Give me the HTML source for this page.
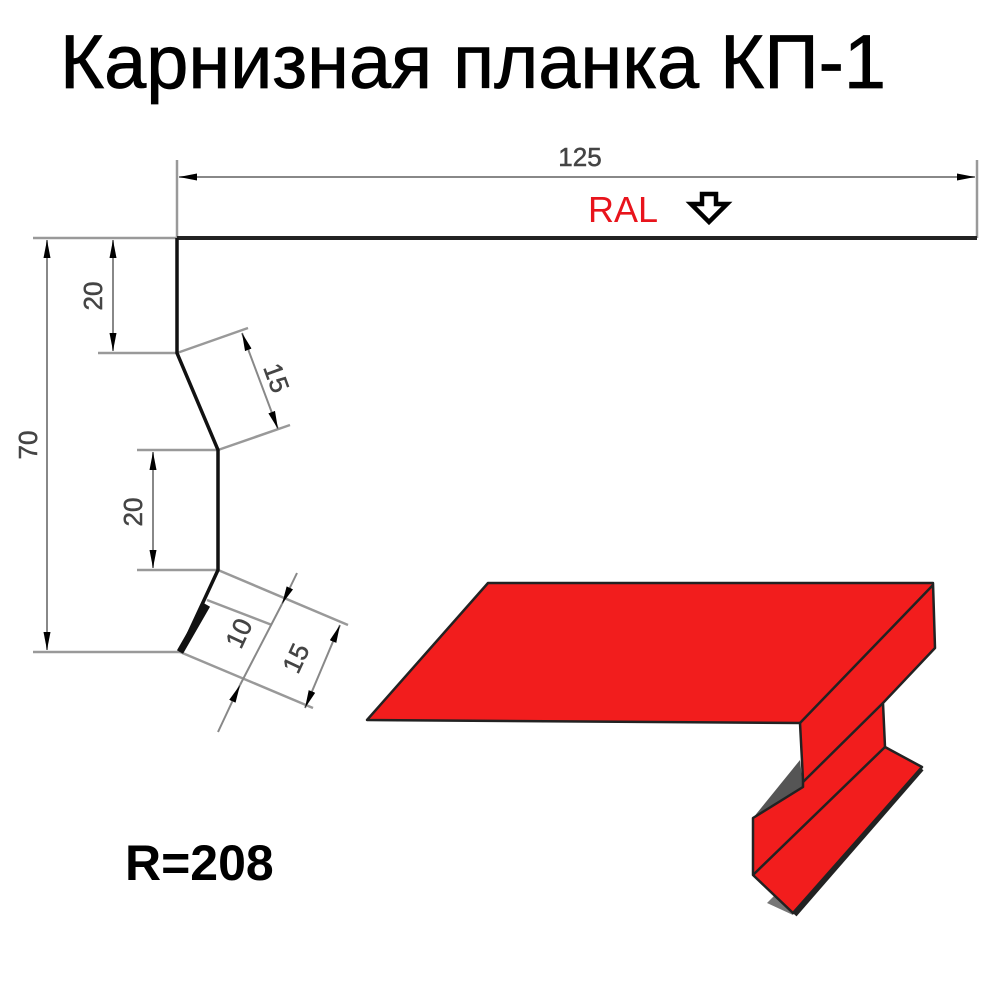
<!DOCTYPE html>
<html><head><meta charset="utf-8"><style>html,body{margin:0;padding:0;background:#fff}svg{display:block}</style></head>
<body>
<svg width="1000" height="1000" viewBox="0 0 1000 1000" xmlns="http://www.w3.org/2000/svg">
<defs>
<marker id="a" viewBox="0 0 18 10" refX="18" refY="5" markerWidth="18" markerHeight="10" orient="auto-start-reverse" markerUnits="userSpaceOnUse"><path d="M0,1.5 L18,5 L0,8.5 z" fill="#000"/></marker>
</defs>
<text x="60" y="88" font-family="'Liberation Sans',sans-serif" font-size="76" textLength="826" lengthAdjust="spacingAndGlyphs" fill="#000" stroke="#000" stroke-width="0.8">Карнизная планка КП-1</text>

<g stroke="#999" stroke-width="2.5" fill="none">
<line x1="177" y1="160" x2="177" y2="238"/>
<line x1="977" y1="160" x2="977" y2="238"/>
<line x1="33" y1="238" x2="177" y2="238"/>
<line x1="33" y1="652" x2="180" y2="652"/>
<line x1="98" y1="353" x2="177" y2="353"/>
<line x1="137" y1="450" x2="218" y2="450"/>
<line x1="137" y1="570" x2="218" y2="570"/>
<line x1="177" y1="353" x2="248" y2="328"/>
<line x1="218" y1="450" x2="290" y2="425"/>
<line x1="218" y1="570" x2="348" y2="625"/>
<line x1="207" y1="600" x2="272" y2="625"/>
<line x1="180" y1="652" x2="313" y2="708"/>
</g>
<g stroke="#888" stroke-width="2" fill="none">
<line x1="179" y1="177" x2="975" y2="177" marker-start="url(#a)" marker-end="url(#a)"/>
<line x1="47" y1="240" x2="47" y2="650" marker-start="url(#a)" marker-end="url(#a)"/>
<line x1="113" y1="240" x2="113" y2="351" marker-start="url(#a)" marker-end="url(#a)"/>
<line x1="153" y1="452" x2="153" y2="568" marker-start="url(#a)" marker-end="url(#a)"/>
<line x1="242" y1="333" x2="278" y2="429" marker-start="url(#a)" marker-end="url(#a)"/>
<line x1="340" y1="625" x2="305" y2="708" marker-start="url(#a)" marker-end="url(#a)"/>
<line x1="297" y1="573" x2="282" y2="604" marker-end="url(#a)"/>
<line x1="218" y1="732" x2="240" y2="685" marker-end="url(#a)"/>
<line x1="282" y1="604" x2="240" y2="685"/>
</g>
<g font-family="'Liberation Sans',sans-serif" font-size="26" fill="#444" stroke="#444" stroke-width="0.5" text-anchor="middle">
<text x="580" y="166">125</text>
<text transform="translate(37,445) rotate(-90)">70</text>
<text transform="translate(102,296) rotate(-90)">20</text>
<text transform="translate(142,512) rotate(-90)">20</text>
<text transform="translate(268,381) rotate(70)">15</text>
<text transform="translate(247,637) rotate(-65)">10</text>
<text transform="translate(304,662) rotate(-65)">15</text>
</g>
<polyline points="177,238 977,238" stroke="#222" stroke-width="4" fill="none"/>
<polyline points="177,238 177,353 218,450 218,570 180,652" stroke="#111" stroke-width="3.5" fill="none"/>
<line x1="207" y1="605" x2="180" y2="652" stroke="#111" stroke-width="7"/>

<text x="588" y="222" font-family="'Liberation Sans',sans-serif" font-size="36" fill="#e8141c">RAL</text>
<path d="M702,194 L716,194 L716,204 L727,204 L709,222 L691,204 L702,204 Z" fill="#fff" stroke="#000" stroke-width="4.5" stroke-linejoin="miter"/>

<text x="125" y="880" font-family="'Liberation Sans',sans-serif" font-size="50" font-weight="bold" fill="#000">R=208</text>

<polygon points="753,818 800,760 803,787" fill="#555"/>
<polygon points="767,903 775,895 795,910 793,915" fill="#777"/>
<polygon points="488,583 933,583 935,648 883,703 885,747 922,767 793,913 753,875 753,818 803,787 803,780 800,723 367,720" fill="#f21d1d" stroke="#222" stroke-width="2.5" stroke-linejoin="round"/>
<g stroke="#222" stroke-width="2.5">
<line x1="933" y1="585" x2="800" y2="723"/>
<line x1="883" y1="703" x2="803" y2="782"/>
<line x1="885" y1="747" x2="753" y2="875"/>
<line x1="922" y1="769" x2="795" y2="915" stroke-width="4"/>
</g>
</svg>
</body></html>
